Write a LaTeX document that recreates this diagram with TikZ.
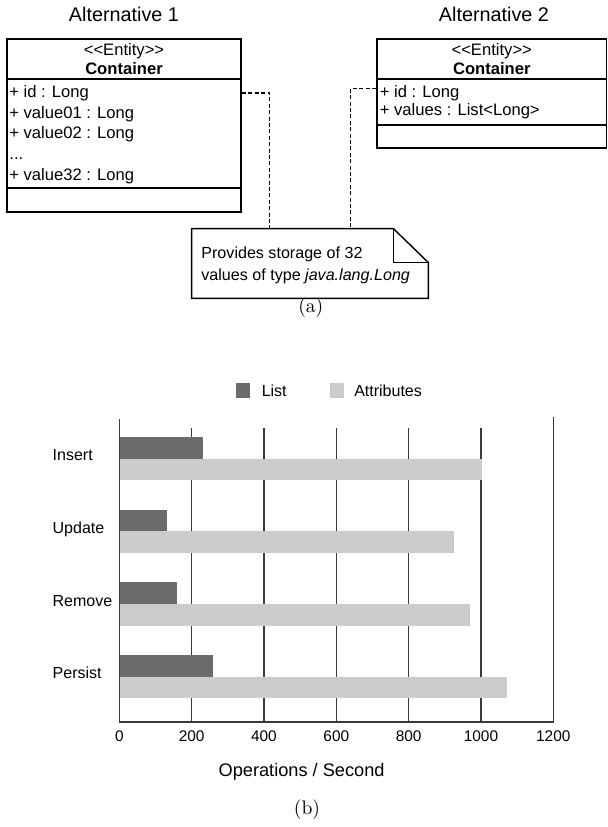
\documentclass[tikz,border=0pt]{standalone}
\usepackage{fontspec}
\newfontfamily\arialfont{Liberation Sans}
\usepackage{tikz}
\usetikzlibrary{positioning,calc}
\definecolor{listgrey}{HTML}{6B6B6B}
\definecolor{attrgrey}{HTML}{CCCCCC}
\definecolor{gridgrey}{HTML}{3A3A3A}

\begin{document}
\begin{tikzpicture}[
  x=0.5pt, y=-0.5pt,
  umlbox/.style={draw, line width=0.9pt, inner sep=0pt},
  umlsep/.style={line width=0.9pt},
  alttitle/.style={font=\arialfont\fontsize{9.9}{12}\selectfont, anchor=base, inner sep=0pt},
  head/.style={font=\arialfont\fontsize{8.3}{10}\selectfont, anchor=base, inner sep=0pt},
  attr/.style={font=\arialfont\fontsize{8.3}{10}\selectfont, anchor=base west, inner sep=0pt},
  notetxt/.style={font=\arialfont\fontsize{8.05}{10}\selectfont, anchor=base west, inner sep=0pt},
  noteline/.style={line width=0.7pt},
  dashlink/.style={dash pattern=on 2pt off 1.2pt, line width=0.8pt},
  chartlbl/.style={font=\arialfont\fontsize{8}{10}\selectfont, inner sep=0pt},
  ticklbl/.style={font=\arialfont\fontsize{7.7}{10}\selectfont, anchor=base, inner sep=0pt},
  legkey/.style={minimum width=7pt, minimum height=7.2pt, inner sep=0pt},
  gridline/.style={draw=gridgrey, line width=0.6pt},
  caption/.style={font=\fontsize{9.8}{12}\selectfont, inner sep=0pt}
]
  \useasboundingbox (0,0) rectangle (608,827);

  % alternative 1: one attribute per value
  \node[alttitle] (alt1) at (124,21.7) {Alternative 1};
  \node[umlbox, minimum width=117pt, minimum height=86.5pt] (cls1) at (124,125.5) {};
  \draw[umlsep] ($(cls1.north west)+(0,41)$) -- ($(cls1.north east)+(0,41)$);
  \draw[umlsep] ($(cls1.north west)+(0,150)$) -- ($(cls1.north east)+(0,150)$);
  \node[head] (st1) at (124,55) {<{}<Entity>{}>};
  \node[head, font=\arialfont\bfseries\fontsize{8.3}{10}\selectfont] (nm1) at (124,74.7) {Container};
  \node[attr] (id1) at (9,97.5) {+ id : Long};
  \node[attr] (v01) at (9,118.2) {+ value01 : Long};
  \node[attr] (v02) at (9,138.9) {+ value02 : Long};
  \node[attr] (vdots) at (9,159.6) {...};
  \node[attr] (v32) at (9,180.3) {+ value32 : Long};

  % alternative 2: one list attribute
  \node[alttitle] (alt2) at (494,21.7) {Alternative 2};
  \node[umlbox, minimum width=114.75pt, minimum height=54.65pt] (cls2) at (491.75,93.65) {};
  \draw[umlsep] ($(cls2.north west)+(0,41)$) -- ($(cls2.north east)+(0,41)$);
  \draw[umlsep] ($(cls2.north west)+(0,87)$) -- ($(cls2.north east)+(0,87)$);
  \node[head] (st2) at (491.75,55) {<{}<Entity>{}>};
  \node[head, font=\arialfont\bfseries\fontsize{8.3}{10}\selectfont] (nm2) at (491.75,74.7) {Container};
  \node[attr] (id2) at (379.5,97) {+ id : Long};
  \node[attr] (vals) at (379.5,115.5) {+ values : List<Long>};

  % note
  \node[minimum width=118pt, minimum height=34.5pt, inner sep=0pt] (note) at (310,263.5) {};
  \draw[noteline] (note.north west) -- ($(note.north east)+(-35,0)$) -- ($(note.north east)+(0,34)$)
    -- (note.south east) -- (note.south west) -- cycle;
  \draw[noteline] ($(note.north east)+(-35,0)$) |- ($(note.north east)+(0,34)$);
  \node[notetxt] (note1) at (201,258.3) {Provides storage of 32};
  \node[notetxt] (note2) at (201,280) {values of type \textit{java.lang.Long}};

  \coordinate (c1) at ($(cls1.north east)+(0,55)$);
  \coordinate (c2) at ($(cls2.north west)+(0,50.5)$);
  \coordinate (n1) at ($(note.north west)+(78,0)$);
  \coordinate (n2) at ($(note.north west)+(159,0)$);
  \draw[dashlink] (c1) -| (n1);
  \draw[dashlink] (c2) -| (n2);

  \node[caption] (capa) at (310.8,308) {(a)};

  % legend
  \node[legkey, fill=listgrey] (keylist) at (243,390.5) {};
  \node[chartlbl, right=5.5pt of keylist] (leglist) {List};
  \node[legkey, fill=attrgrey] (keyattr) at (336.5,390.5) {};
  \node[chartlbl, right=5pt of keyattr] (legattr) {Attributes};

  % bar chart, value axis 0..1200
  \begin{scope}[shift={(119.3,0)}, xscale=0.36167]
    \foreach \v in {200,400,...,1000}
      \draw[gridline] (\v,428.3) -- (\v,722);
    \foreach \lab/\lv/\av [count=\i] in {Insert/231/1003, Update/131/925, Remove/159/971, Persist/259/1071} {
      \pgfmathsetmacro\yt{437+(\i-1)*72.67}
      \fill[listgrey] (0,\yt) rectangle (\lv,\yt+21.7);
      \fill[attrgrey] (0,\yt+21.7) rectangle (\av,\yt+43.4);
      \node[chartlbl, anchor=base west] (cat\i) at (-185.3,\yt+23.8) {\lab};
    }
    \draw[gridline] (0,419.3) -- (0,722) -- (1200,722) -- (1200,416.7);
    \foreach \v in {0,200,...,1200}
      \node[ticklbl] (tick\v) at (\v,741.8) {\v};
  \end{scope}
  \node[chartlbl, font=\arialfont\fontsize{9.1}{11}\selectfont, anchor=base] (xtitle) at (301.6,776.5) {Operations / Second};

  \node[caption] (capb) at (307,810) {(b)};
\end{tikzpicture}
\end{document}
